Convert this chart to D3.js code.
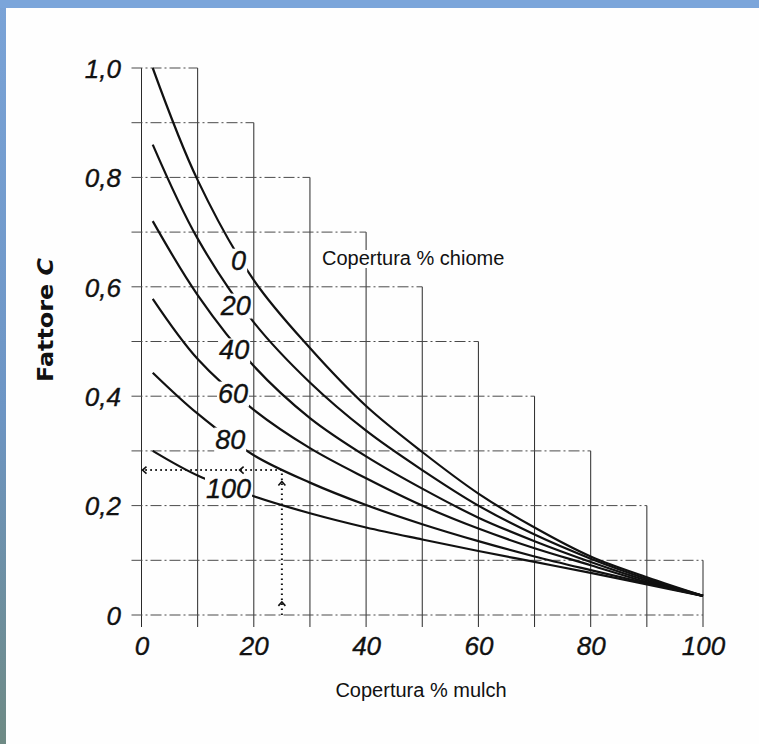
<!DOCTYPE html>
<html lang="it">
<head>
<meta charset="UTF-8">
<title>Fattore C</title>
<script src="https://cdn.jsdelivr.net/npm/d3@7/dist/d3.min.js"></script>
<style>
    body { margin: 0; background: #fff; }
    svg { display: block; }
    .tick-label text { font-family: "Liberation Sans", Arial, sans-serif; font-style: italic; font-size: 26px; fill: #111; stroke: #111; stroke-width: 0.35px; }
    .curve-label { font-family: "Liberation Sans", Arial, sans-serif; font-style: italic; font-size: 27px; fill: #111; stroke: #111; stroke-width: 0.35px; }
    .plain { font-family: "Liberation Sans", Arial, sans-serif; font-size: 20px; fill: #111; }
</style>
</head>
<body>
<svg id="chart" width="759" height="744"></svg>
<script>
// copertura % mulch (x) and fattore C for each copertura % chiome curve
var mulchPct = [2, 10, 20, 30, 40, 50, 60, 70, 80, 90, 100];
var crownCover = ["0", "20", "40", "60", "80", "100"];
var c0 = [1.0, 0.795, 0.612, 0.488, 0.382, 0.298, 0.222, 0.160, 0.107, 0.069, 0.035];
var c20 = [0.86, 0.688, 0.535, 0.425, 0.337, 0.265, 0.200, 0.147, 0.103, 0.066, 0.035];
var c40 = [0.72, 0.585, 0.455, 0.360, 0.290, 0.231, 0.178, 0.135, 0.097, 0.063, 0.035];
var c60 = [0.578, 0.468, 0.375, 0.305, 0.250, 0.200, 0.158, 0.122, 0.091, 0.060, 0.035];
var c80 = [0.443, 0.368, 0.292, 0.242, 0.201, 0.166, 0.135, 0.107, 0.082, 0.058, 0.035];
var c100 = [0.30, 0.255, 0.217, 0.186, 0.160, 0.138, 0.117, 0.097, 0.077, 0.056, 0.035];
var seriesValues = [c0, c20, c40, c60, c80, c100];

// where the curve labels sit (mulch %, C)
var labelMulch = [17.3, 16.8, 16.5, 16.3, 15.8, 15.5];
var labelC = [0.649, 0.567, 0.485, 0.406, 0.322, 0.232];

var xTicks = [0, 20, 40, 60, 80, 100];
var yTicks = [0, 0.2, 0.4, 0.6, 0.8, 1.0];
var yTickLabels = ["0", "0,2", "0,4", "0,6", "0,8", "1,0"];

// worked example: 25 % mulch on the 80 curve
var exampleMulch = 25;
var exampleC = 0.265;
var arrowMulch = [0, 17.3];
var arrowC = [0.024, 0.244];

var W = 759, H = 744;
var svg = d3.select("#chart");
var defs = svg.append("defs");

// blue photo frame behind the white sheet
var grad = defs.append("linearGradient").attr("id", "side")
    .attr("x1", 0).attr("y1", 0).attr("x2", 0).attr("y2", 1);
grad.append("stop").attr("offset", "0%").attr("stop-color", "#7aa3d7");
grad.append("stop").attr("offset", "55%").attr("stop-color", "#6d95c4");
grad.append("stop").attr("offset", "100%").attr("stop-color", "#6e8a84");
svg.append("rect").attr("width", W).attr("height", H).attr("fill", "url(#side)");
svg.append("rect").attr("width", W).attr("height", 8).attr("fill", "#7ba5da");
svg.append("rect").attr("x", 6).attr("y", 8).attr("width", W - 6).attr("height", H - 8).attr("fill", "#fefefe");

var x = d3.scaleLinear().domain([0, 100]).range([141.5, 703]);
var y = d3.scaleLinear().domain([0, 1]).range([615, 68]);

// mask punches gaps where labels sit
var mask = defs.append("mask").attr("id", "gap").attr("maskUnits", "userSpaceOnUse")
    .attr("x", 0).attr("y", 0).attr("width", W).attr("height", H);
mask.append("rect").attr("width", W).attr("height", H).attr("fill", "#fff");

var gridG = svg.append("g").attr("mask", "url(#gap)");
var curveG = svg.append("g").attr("mask", "url(#gap)");

// staircase grid
gridG.selectAll(".vline")
    .data(d3.range(0, 101, 10))
    .enter()
    .append("line")
    .attr("class", "vline")
    .attr("x1", function (d) { return x(d); })
    .attr("x2", function (d) { return x(d); })
    .attr("y1", y(0) + 12)
    .attr("y2", function (d) { return y(Math.min(1, 1.1 - d / 100)); })
    .style("stroke", "#2a2a2a")
    .style("stroke-width", 1);

gridG.selectAll(".hline")
    .data(d3.range(0, 11).map(function (j) { return j / 10; }))
    .enter()
    .append("line")
    .attr("class", "hline")
    .attr("x1", x(0) - 10)
    .attr("x2", function (d) { return x(Math.min(100, (1.1 - d) * 100)); })
    .attr("y1", function (d) { return y(d); })
    .attr("y2", function (d) { return y(d); })
    .style("stroke", "#4a4a4a")
    .style("stroke-width", 1)
    .style("stroke-dasharray", "11,3,2,3");

// axes (labels only)
svg.append("g")
    .attr("class", "tick-label")
    .attr("transform", "translate(0," + y(0) + ")")
    .call(d3.axisBottom(x).tickValues(xTicks).tickSize(0).tickFormat(function (d) { return d; }))
    .call(function (g) { g.select(".domain").remove(); })
    .selectAll("text")
    .attr("y", 40)
    .attr("dy", null);

svg.append("g")
    .attr("class", "tick-label")
    .attr("transform", "translate(" + x(0) + ",0)")
    .call(d3.axisLeft(y).tickValues(yTicks).tickSize(0).tickPadding(x(0) - 121)
        .tickFormat(function (d, i) { return yTickLabels[i]; }))
    .call(function (g) { g.select(".domain").remove(); })
    .selectAll("text")
    .attr("dy", "0.36em");

svg.selectAll(".tick-label text").attr("font-family", null).attr("font-size", null).attr("fill", null);

// curves
var line = d3.line()
    .x(function (d, i) { return x(mulchPct[i]); })
    .y(function (d) { return y(d); })
    .curve(d3.curveCatmullRom.alpha(0.5));

curveG.selectAll(".curve")
    .data(seriesValues)
    .enter()
    .append("path")
    .attr("class", "curve")
    .attr("d", line)
    .style("fill", "none")
    .style("stroke", "#111")
    .style("stroke-width", 2.2);

var labels = svg.selectAll(".curve-label")
    .data(crownCover)
    .enter()
    .append("text")
    .attr("class", "curve-label")
    .attr("x", function (d, i) { return x(labelMulch[i]); })
    .attr("y", function (d, i) { return y(labelC[i]); })
    .attr("dy", "0.36em")
    .attr("text-anchor", "middle")
    .text(function (d) { return d; });

var chiome = svg.append("text")
    .attr("class", "plain")
    .attr("x", 322)
    .attr("y", 265)
    .text("Copertura % chiome");

// gaps behind labels
labels.each(function () {
    var b = this.getBBox();
    mask.append("rect").attr("x", b.x - 1).attr("y", b.y + 3)
        .attr("width", b.width + 2).attr("height", b.height - 5).attr("fill", "#000");
});
var cb = chiome.node().getBBox();
mask.append("rect").attr("x", cb.x).attr("y", cb.y + 3)
    .attr("width", cb.width).attr("height", cb.height - 4).attr("fill", "#000");

// dotted reading lines
var ex = x(exampleMulch), ey = y(exampleC);
var dotG = svg.append("g")
    .style("stroke", "#111")
    .style("fill", "none");
dotG.append("line")
    .attr("x1", ex).attr("x2", ex).attr("y1", y(0)).attr("y2", ey)
    .style("stroke-width", 2).style("stroke-dasharray", "1.6,3.4");
dotG.append("line")
    .attr("x1", ex).attr("x2", x(0)).attr("y1", ey).attr("y2", ey)
    .style("stroke-width", 2).style("stroke-dasharray", "1.6,3.4");
dotG.selectAll(".arrow-h")
    .data(arrowMulch)
    .enter()
    .append("path")
    .attr("d", function (d) {
        var px = x(d) + 1;
        return "M" + (px + 4) + "," + (ey - 3.5) + "L" + px + "," + ey + "L" + (px + 4) + "," + (ey + 3.5);
    })
    .style("stroke-width", 1.6);
dotG.selectAll(".arrow-v")
    .data(arrowC)
    .enter()
    .append("path")
    .attr("d", function (d) {
        var py = y(d);
        return "M" + (ex - 3.5) + "," + (py + 4) + "L" + ex + "," + py + "L" + (ex + 3.5) + "," + (py + 4);
    })
    .style("stroke-width", 1.6);

// axis titles
svg.append("text")
    .attr("class", "plain")
    .attr("x", 421)
    .attr("y", 697)
    .attr("text-anchor", "middle")
    .text("Copertura % mulch");

var yTitle = svg.append("text")
    .attr("transform", "translate(53,320) rotate(-90)")
    .attr("text-anchor", "middle")
    .attr("textLength", 124)
    .attr("lengthAdjust", "spacingAndGlyphs")
    .style("font-family", "'DejaVu Sans', sans-serif")
    .style("font-weight", "bold")
    .style("font-size", "22px")
    .style("fill", "#111");
yTitle.append("tspan").text("Fattore ");
yTitle.append("tspan").style("font-style", "italic").text("C");
</script>
</body>
</html>
